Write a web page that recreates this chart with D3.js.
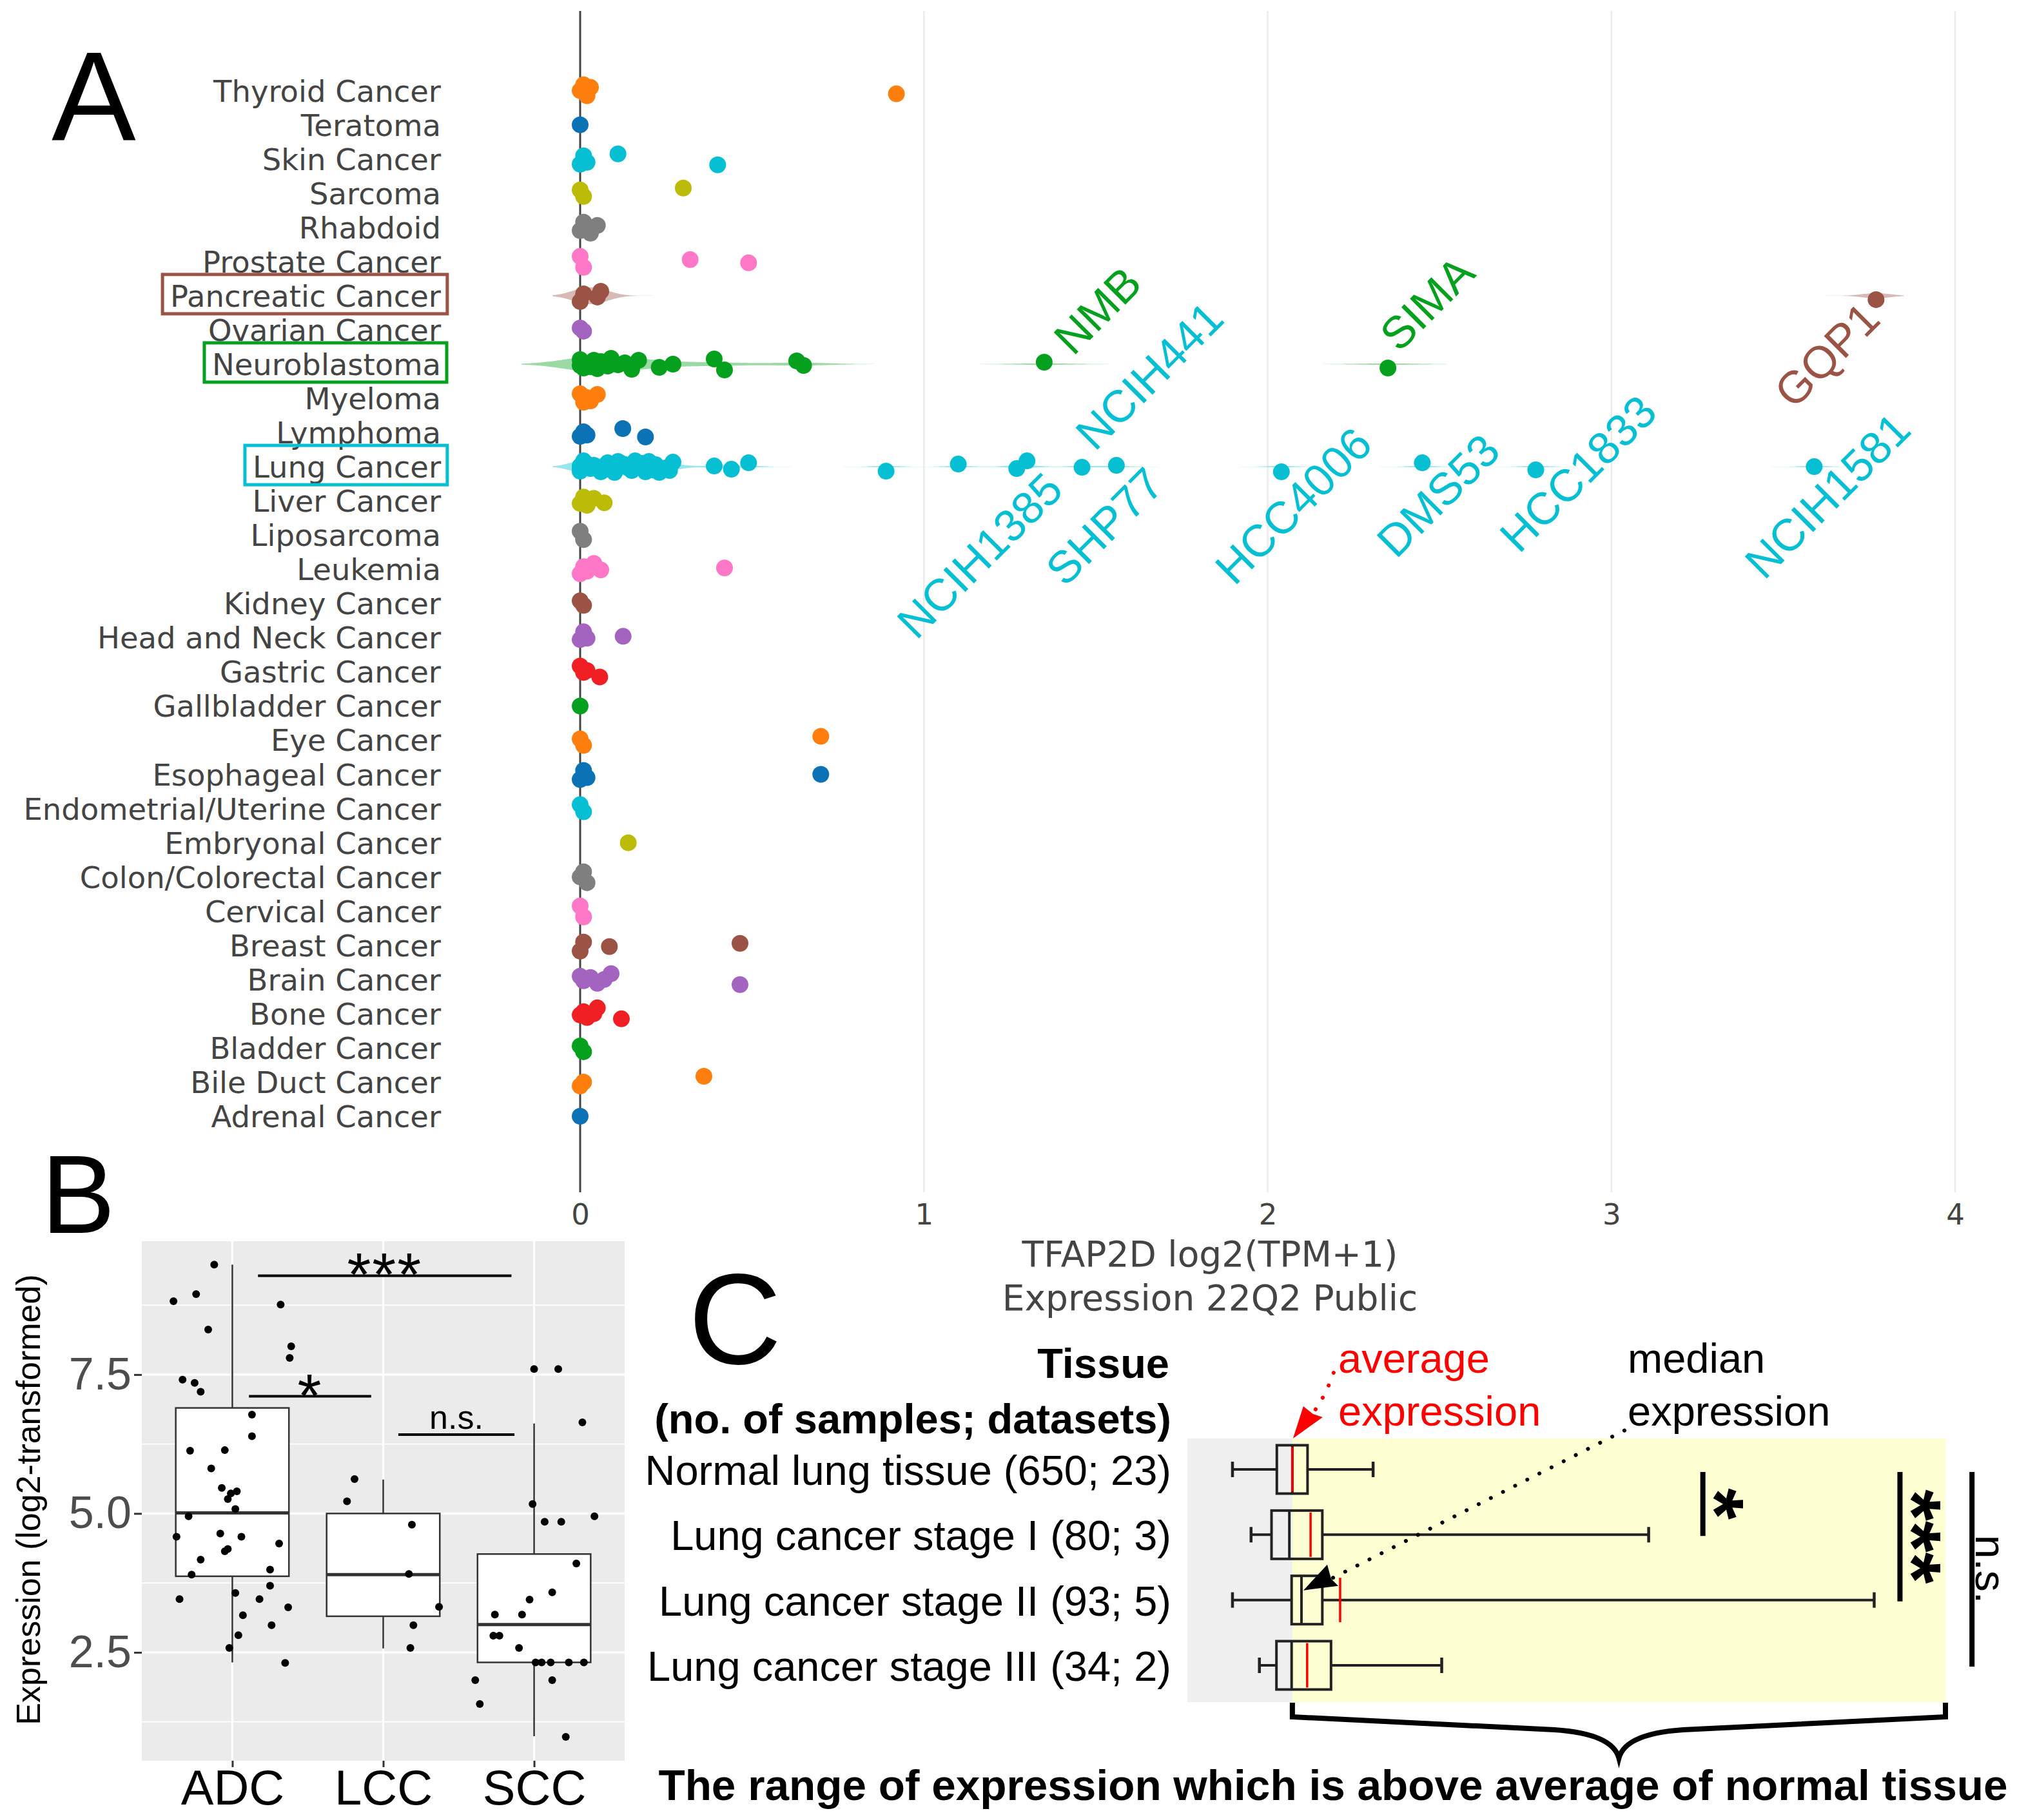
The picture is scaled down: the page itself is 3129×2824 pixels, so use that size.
<!DOCTYPE html>
<html>
<head>
<meta charset="utf-8">
<script src="https://cdn.jsdelivr.net/npm/d3@7"></script>
<style>
  body { margin: 0; background: #fff; }
  svg { display: block; }
</style>
</head>
<body>
<svg id="fig" width="3129" height="2824"></svg>
<script>
// ---------------- data: panel A (TFAP2D by cancer type) ----------------
const cancerTypes = [
  "Thyroid Cancer", "Teratoma", "Skin Cancer", "Sarcoma", "Rhabdoid", "Prostate Cancer",
  "Pancreatic Cancer", "Ovarian Cancer", "Neuroblastoma", "Myeloma", "Lymphoma", "Lung Cancer",
  "Liver Cancer", "Liposarcoma", "Leukemia", "Kidney Cancer", "Head and Neck Cancer",
  "Gastric Cancer", "Gallbladder Cancer", "Eye Cancer", "Esophageal Cancer",
  "Endometrial/Uterine Cancer", "Embryonal Cancer", "Colon/Colorectal Cancer", "Cervical Cancer",
  "Breast Cancer", "Brain Cancer", "Bone Cancer", "Bladder Cancer", "Bile Duct Cancer", "Adrenal Cancer"
];
// hidden lineage that still takes a colour slot in the original plot
const hiddenType = "Non-Cancerous";
// log2(TPM+1) per cell line, same order as cancerTypes
const typeValues = [
  [0, 0.01, 0.02, 0.03, 0.92],
  [0],
  [0, 0.01, 0.02, 0.11, 0.40],
  [0, 0.01, 0.30],
  [0, 0.01, 0.03, 0.05],
  [0, 0.01, 0.32, 0.49],
  [0, 0.01, 0.05, 0.06, 3.77],
  [0, 0.01],
  [0, 0, 0.01, 0.02, 0.03, 0.04, 0.05, 0.06, 0.08, 0.09, 0.11, 0.13, 0.15, 0.17, 0.23, 0.27, 0.39, 0.42, 0.63, 0.65, 1.35, 2.35],
  [0, 0.01, 0.02, 0.03, 0.05],
  [0, 0.01, 0.02, 0.124, 0.19],
  [0, 0, 0.01, 0, 0.02, 0.03, 0.01, 0.05, 0.04, 0.06, 0.08, 0.07, 0.09, 0.11, 0.10, 0.12, 0.14, 0.13, 0.15,
   0.17, 0.16, 0.19, 0.18, 0.21, 0.20, 0.23, 0.22, 0.25, 0.27, 0.26, 0.39, 0.44, 0.49,
   0.89, 1.10, 1.27, 1.30, 1.46, 1.56, 2.04, 2.45, 2.78, 3.59],
  [0, 0.01, 0.02, 0.04, 0.07],
  [0, 0.01],
  [0, 0.01, 0.02, 0.04, 0.06, 0.42],
  [0, 0.01],
  [0, 0.01, 0.02, 0.125],
  [0, 0.01, 0.02, 0.057],
  [0],
  [0, 0.01, 0.70],
  [0, 0.01, 0.02, 0.70],
  [0, 0.01],
  [0.14],
  [0, 0.01, 0.02],
  [0, 0.01],
  [0, 0.01, 0.085, 0.465],
  [0, 0.01, 0.03, 0.05, 0.07, 0.09, 0.465],
  [0, 0.01, 0.02, 0.04, 0.05, 0.12],
  [0, 0.01],
  [0, 0.01, 0.36],
  [0]
];
const boxedTypes = ["Pancreatic Cancer", "Neuroblastoma", "Lung Cancer"];
const violinTypes = ["Pancreatic Cancer", "Neuroblastoma", "Lung Cancer"];
const violinBandwidth = [0.04, 0.085, 0.04];
const cellLines = ["NMB", "SIMA", "GQP1", "NCIH441", "NCIH1385", "SHP77", "HCC4006", "DMS53", "HCC1833", "NCIH1581"];
const cellLineTypes = ["Neuroblastoma", "Neuroblastoma", "Pancreatic Cancer", "Lung Cancer", "Lung Cancer",
  "Lung Cancer", "Lung Cancer", "Lung Cancer", "Lung Cancer", "Lung Cancer"];
const cellLineValues = [1.35, 2.35, 3.77, 1.46, 1.30, 1.56, 2.04, 2.45, 2.78, 3.59];
const xTicksA = [0, 1, 2, 3, 4];
const xTitleA = ["TFAP2D log2(TPM+1)", "Expression 22Q2 Public"];

// ---------------- data: panel B (NSCLC subtypes) ----------------
const subtypes = ["ADC", "LCC", "SCC"];
const boxLow = [2.32, 2.57, 0.99];
const boxQ1 = [3.87, 3.15, 2.32];
const boxMedian = [5.01, 3.90, 3.00];
const boxQ3 = [6.90, 5.00, 4.27];
const boxHigh = [9.48, 5.61, 6.62];
// [jitter in category units, expression]
const adcPoints = [[-0.12,9.48],[-0.39,8.82],[-0.24,8.95],[-0.16,8.31],[0.32,8.76],[0.39,8.01],[0.38,7.80],
  [-0.33,7.41],[-0.25,7.35],[-0.21,7.19],[0.13,6.78],[0.13,6.39],[-0.28,6.13],[-0.05,6.14],[-0.14,5.81],
  [-0.07,5.46],[-0.01,5.36],[0.03,5.40],[-0.03,5.26],[0.02,5.08],[-0.29,4.95],[-0.37,4.58],[-0.08,4.64],
  [0.06,4.58],[0.31,4.46],[-0.03,4.36],[-0.05,4.32],[-0.21,4.17],[-0.27,3.90],[0.25,3.99],[0.25,3.70],
  [-0.35,3.46],[0.02,3.57],[0.18,3.46],[0.37,3.31],[0.07,3.17],[0.26,2.99],[0.04,2.81],[-0.02,2.58],[0.35,2.31]];
const lccPoints = [[-0.19,5.62],[-0.24,5.22],[0.19,4.80],[0.17,3.91],[0.37,3.32],[0.20,2.99],[0.18,2.58]];
const sccPoints = [[0.0,7.60],[0.16,7.60],[0.32,6.64],[-0.01,5.17],[0.07,4.85],[0.18,4.85],[0.40,4.95],
  [0.28,4.10],[0.12,3.58],[-0.03,3.45],[-0.26,3.18],[-0.08,3.18],[-0.27,2.80],[-0.23,2.80],[-0.10,2.58],
  [0.01,2.32],[0.05,2.32],[0.11,2.32],[0.23,2.32],[0.33,2.32],[0.12,2.00],[-0.39,2.00],[-0.36,1.57],[0.21,0.98]];
const yTicksB = [2.5, 5.0, 7.5];
const compLabelB = ["***", "*", "n.s."];
const compFromB = [0.17, 0.11, 1.10];   // category index
const compToB = [1.85, 0.92, 1.87];
const compLevelB = [9.28, 7.11, 6.42];

// ---------------- data: panel C (normal vs tumour stages) ----------------
const tissues = ["Normal lung tissue (650; 23)", "Lung cancer stage I (80; 3)",
  "Lung cancer stage II (93; 5)", "Lung cancer stage III (34; 2)"];
const tisLow = [1.19, 1.68, 1.19, 1.90];
const tisQ1 = [2.36, 2.22, 2.75, 2.35];
const tisMedian = [2.77, 2.69, 3.01, 2.75];
const tisQ3 = [3.17, 3.56, 3.56, 3.79];
const tisHigh = [4.90, 12.17, 18.12, 6.71];
const tisMean = [2.77, 3.25, 4.03, 3.16];
const compLabelC = ["*", "***", "n.s."];
const compToC = [1, 2, 3];            // compared with row 0
const compPosC = [13.6, 18.8, 20.7];  // expression units

// ---------------- setup ----------------
const svg = d3.select("#fig");
const palette = ["#0b72b5", "#ff7f0e", "#05a11e", "#f01f24", "#a264bf",
                 "#9b5345", "#fe78c7", "#7f7f7f", "#bcbc08", "#06bfd3"];
const colorDomain = cancerTypes.slice().reverse();
colorDomain.splice(colorDomain.indexOf("Neuroblastoma") + 1, 0, hiddenType);
const colorScale = d3.scaleOrdinal().domain(colorDomain).range(palette);
const colorOf = t => colorScale(t);
const plotlyFont = "'DejaVu Sans', Verdana, sans-serif";
const arial = "'Liberation Sans', Arial, Helvetica, sans-serif";
const jitterPx = [0, -9, 8, -5, 5, -8, 9, -3, 2, -7, 6, -1, 4, -6, 7, -4, 3, -9, 1, -2, 8, -6, 5, 0, -8, 9, -5, 2, -3, 6];

// ================= PANEL A =================
const gA = svg.append("g");
const xA = d3.scaleLinear().domain([0, 4]).range([900, 3033]);
const yA = d3.scalePoint().domain(cancerTypes).range([140.6, 1732]);

gA.selectAll("line.grid").data(xTicksA.filter(d => d > 0)).join("line")
    .attr("class", "grid")
    .attr("x1", d => xA(d)).attr("x2", d => xA(d))
    .attr("y1", 17).attr("y2", 1850)
    .attr("stroke", "#ebebeb").attr("stroke-width", 2.5);

gA.append("line")
    .attr("x1", xA(0)).attr("x2", xA(0)).attr("y1", 17).attr("y2", 1850)
    .attr("stroke", "#444").attr("stroke-width", 3);

const axA = gA.append("g").attr("transform", "translate(0,1850)")
    .call(d3.axisBottom(xA).tickValues(xTicksA).tickSize(0).tickPadding(18).tickFormat(d3.format("d")));
axA.select(".domain").remove();
axA.selectAll("text").style("font-family", plotlyFont).style("font-size", "45px").attr("fill", "#444");

gA.append("text")
    .attr("x", 1877).attr("y", 1965)
    .attr("text-anchor", "middle")
    .style("font-family", plotlyFont).style("font-size", "55px").attr("fill", "#444")
    .selectAll("tspan").data(xTitleA).join("tspan")
    .attr("x", 1877).attr("dy", (d, i) => i ? 68 : 0).text(d => d);

// category labels
const labA = gA.selectAll("text.cat").data(cancerTypes).join("text")
    .attr("class", "cat")
    .attr("x", 684).attr("y", d => yA(d) + 17)
    .attr("text-anchor", "end")
    .style("font-family", plotlyFont).style("font-size", "46.5px").attr("fill", "#444")
    .text(d => d);

labA.filter(d => boxedTypes.includes(d)).each(function (d) {
  const b = this.getBBox();
  gA.append("rect")
      .attr("x", b.x - 12).attr("y", yA(d) - 33)
      .attr("width", b.width + 21).attr("height", 61)
      .attr("fill", "none").attr("stroke", colorOf(d)).attr("stroke-width", 5);
});

// violins (gaussian kde)
violinTypes.forEach((t, k) => {
  const vals = typeValues[cancerTypes.indexOf(t)];
  const bw = violinBandwidth[k];
  const lo = d3.min(vals) - 2 * bw, hi = d3.max(vals) + 2 * bw;
  const xs = d3.range(lo, hi, 0.004).concat([hi]);
  const dens = xs.map(x => d3.mean(vals, v => Math.exp(-0.5 * ((x - v) / bw) ** 2)));
  const dMax = d3.max(dens);
  const hScale = d3.scaleLinear().domain([0, dMax]).range([0, 13]);
  const pts = xs.map((x, i) => [x, dens[i]]);
  const area = d3.area()
      .x(p => xA(p[0]))
      .y0(p => yA(t) - hScale(p[1]))
      .y1(p => yA(t) + hScale(p[1]))
      .curve(d3.curveBasis);
  gA.append("path").attr("d", area(pts))
      .attr("fill", colorOf(t)).attr("fill-opacity", 0.4);
});

// points
const ptsA = [];
cancerTypes.forEach((t, i) => {
  typeValues[i].forEach((v, j) => {
    ptsA.push({ type: t, value: v, dy: typeValues[i].length > 1 ? jitterPx[(j + i) % jitterPx.length] : 0 });
  });
});
gA.selectAll("circle.pt").data(ptsA).join("circle")
    .attr("class", "pt")
    .attr("cx", d => xA(d.value))
    .attr("cy", d => yA(d.type) + d.dy)
    .attr("r", 13)
    .attr("fill", d => colorOf(d.type));

// cell line annotations
const labelOffsets = [[82, -84], [60, -95], [-77, 91], [104, -142], [-74, 137],
                      [-19, 92], [18, 60], [24, 44], [65, 10], [20, 44]];
gA.selectAll("text.cell").data(cellLines).join("text")
    .attr("class", "cell")
    .attr("transform", (d, i) => {
      const cx = xA(cellLineValues[i]) + labelOffsets[i][0];
      const cy = yA(cellLineTypes[i]) + labelOffsets[i][1];
      return `translate(${cx},${cy}) rotate(-45)`;
    })
    .attr("text-anchor", "middle").attr("dy", "0.36em")
    .style("font-family", arial).style("font-size", "70px")
    .attr("fill", (d, i) => colorOf(cellLineTypes[i]))
    .text(d => d);

// ================= PANEL B =================
const gB = svg.append("g");
const xB = d3.scalePoint().domain(subtypes).range([220, 969]).padding(0.6);
const stepB = xB.step();
const yB = d3.scaleLinear().domain([0.55, 9.9]).range([2732, 1926]);
const idxB = d3.scaleLinear().domain([0, 2]).range([xB(subtypes[0]), xB(subtypes[2])]);

gB.append("rect").attr("x", 220).attr("y", 1926).attr("width", 749).attr("height", 806).attr("fill", "#ebebeb");
const minorB = [1.25, 3.75, 6.25, 8.75];
gB.selectAll("line.minor").data(minorB).join("line")
    .attr("x1", 220).attr("x2", 969).attr("y1", d => yB(d)).attr("y2", d => yB(d))
    .attr("stroke", "#fff").attr("stroke-width", 1.6);
gB.selectAll("line.major").data(yTicksB).join("line")
    .attr("x1", 220).attr("x2", 969).attr("y1", d => yB(d)).attr("y2", d => yB(d))
    .attr("stroke", "#fff").attr("stroke-width", 3.2);
gB.selectAll("line.vmajor").data(subtypes).join("line")
    .attr("x1", d => xB(d)).attr("x2", d => xB(d)).attr("y1", 1926).attr("y2", 2732)
    .attr("stroke", "#fff").attr("stroke-width", 3.2);

const boxesB = subtypes.map((s, i) => ({ s, lo: boxLow[i], q1: boxQ1[i], med: boxMedian[i], q3: boxQ3[i], hi: boxHigh[i] }));
const bw2 = stepB * 0.375;
gB.selectAll("line.whisk").data(boxesB).join("line")
    .attr("x1", d => xB(d.s)).attr("x2", d => xB(d.s)).attr("y1", d => yB(d.lo)).attr("y2", d => yB(d.hi))
    .attr("stroke", "#333").attr("stroke-width", 2.5);
gB.selectAll("rect.box").data(boxesB).join("rect")
    .attr("x", d => xB(d.s) - bw2).attr("width", 2 * bw2)
    .attr("y", d => yB(d.q3)).attr("height", d => yB(d.q1) - yB(d.q3))
    .attr("fill", "#fff").attr("stroke", "#333").attr("stroke-width", 2.5);
gB.selectAll("line.med").data(boxesB).join("line")
    .attr("x1", d => xB(d.s) - bw2).attr("x2", d => xB(d.s) + bw2)
    .attr("y1", d => yB(d.med)).attr("y2", d => yB(d.med))
    .attr("stroke", "#333").attr("stroke-width", 5);

const ptsB = [];
[adcPoints, lccPoints, sccPoints].forEach((arr, i) => arr.forEach(p => ptsB.push({ s: subtypes[i], j: p[0], v: p[1] })));
gB.selectAll("circle.pt").data(ptsB).join("circle")
    .attr("cx", d => xB(d.s) + d.j * stepB).attr("cy", d => yB(d.v)).attr("r", 6)
    .attr("fill", "#000");

// axes
const ayB = gB.append("g").attr("transform", "translate(220,0)")
    .call(d3.axisLeft(yB).tickValues(yTicksB).tickSize(12).tickPadding(4).tickFormat(d3.format(".1f")));
ayB.select(".domain").remove();
ayB.selectAll("line").attr("stroke", "#333").attr("stroke-width", 3);
ayB.selectAll("text").style("font-family", arial).style("font-size", "70px").attr("fill", "#4d4d4d");
const axB = gB.append("g").attr("transform", "translate(0,2732)")
    .call(d3.axisBottom(xB).tickSize(10).tickPadding(4));
axB.select(".domain").remove();
axB.selectAll("line").attr("stroke", "#333").attr("stroke-width", 3);
axB.selectAll("text").style("font-family", arial).style("font-size", "76px").attr("fill", "#000");

gB.append("text")
    .attr("transform", "translate(62,2327) rotate(-90)")
    .attr("text-anchor", "middle")
    .style("font-family", arial).style("font-size", "52px").attr("fill", "#000")
    .text("Expression (log2-transformed)");

// comparisons
compLabelB.forEach((lab, i) => {
  const y = yB(compLevelB[i]);
  gB.append("line")
      .attr("x1", idxB(compFromB[i])).attr("x2", idxB(compToB[i])).attr("y1", y).attr("y2", y)
      .attr("stroke", "#000").attr("stroke-width", 4);
  const star = lab !== "n.s.";
  gB.append("text")
      .attr("x", (idxB(compFromB[i]) + idxB(compToB[i])) / 2)
      .attr("y", star ? y + 31 : y - 9)
      .attr("text-anchor", "middle")
      .style("font-family", arial).style("font-size", star ? "95px" : "52px")
      .style("letter-spacing", star ? "2px" : "0px")
      .attr("fill", "#000").text(lab);
});

// ================= PANEL C =================
const gC = svg.append("g");
const xC = d3.scaleLinear().domain([0, 20]).range([1842, 3018]);
const yC = d3.scalePoint().domain(tissues).range([2280, 2584]);
const regTop = yC(tissues[0]) - 48, regBot = yC(tissues[3]) + 57;
const avgNormal = tisMean[0];

gC.append("rect").attr("x", xC(0)).attr("y", regTop)
    .attr("width", xC(avgNormal) - xC(0)).attr("height", regBot - regTop).attr("fill", "#efefef");
gC.append("rect").attr("x", xC(avgNormal)).attr("y", regTop)
    .attr("width", xC(20) - xC(avgNormal)).attr("height", regBot - regTop).attr("fill", "#fefed3");

const boxesC = tissues.map((t, i) => ({ t, lo: tisLow[i], q1: tisQ1[i], med: tisMedian[i], q3: tisQ3[i], hi: tisHigh[i], mean: tisMean[i] }));
const bh = 37.5;
gC.selectAll("line.wl").data(boxesC).join("line")
    .attr("x1", d => xC(d.lo)).attr("x2", d => xC(d.q1)).attr("y1", d => yC(d.t)).attr("y2", d => yC(d.t))
    .attr("stroke", "#222").attr("stroke-width", 4);
gC.selectAll("line.wh").data(boxesC).join("line")
    .attr("x1", d => xC(d.q3)).attr("x2", d => xC(d.hi)).attr("y1", d => yC(d.t)).attr("y2", d => yC(d.t))
    .attr("stroke", "#222").attr("stroke-width", 4);
gC.selectAll("line.capl").data(boxesC).join("line")
    .attr("x1", d => xC(d.lo)).attr("x2", d => xC(d.lo)).attr("y1", d => yC(d.t) - 12).attr("y2", d => yC(d.t) + 12)
    .attr("stroke", "#222").attr("stroke-width", 4.5);
gC.selectAll("line.caph").data(boxesC).join("line")
    .attr("x1", d => xC(d.hi)).attr("x2", d => xC(d.hi)).attr("y1", d => yC(d.t) - 12).attr("y2", d => yC(d.t) + 12)
    .attr("stroke", "#222").attr("stroke-width", 4.5);
gC.selectAll("rect.box").data(boxesC).join("rect")
    .attr("x", d => xC(d.q1)).attr("width", d => xC(d.q3) - xC(d.q1))
    .attr("y", d => yC(d.t) - bh).attr("height", 2 * bh)
    .attr("fill", "none").attr("stroke", "#222").attr("stroke-width", 4);
gC.selectAll("line.med").data(boxesC).join("line")
    .attr("x1", d => xC(d.med)).attr("x2", d => xC(d.med)).attr("y1", d => yC(d.t) - bh).attr("y2", d => yC(d.t) + bh)
    .attr("stroke", "#222").attr("stroke-width", 4);
gC.selectAll("line.mean").data(boxesC).join("line")
    .attr("x1", d => xC(d.mean)).attr("x2", d => xC(d.mean)).attr("y1", d => yC(d.t) - bh + 3).attr("y2", d => yC(d.t) + bh - 3)
    .attr("stroke", "#ff0000").attr("stroke-width", 3.5);

// row labels and header
gC.selectAll("text.row").data(tissues).join("text")
    .attr("x", 1817).attr("y", d => yC(d) + 24)
    .attr("text-anchor", "end")
    .style("font-family", arial).style("font-size", "65px").attr("fill", "#000")
    .text(d => d);
gC.append("text").attr("x", 1814).attr("y", 2138).attr("text-anchor", "end")
    .style("font-family", arial).style("font-size", "65px").style("font-weight", "bold").text("Tissue");
gC.append("text").attr("x", 1817).attr("y", 2224).attr("text-anchor", "end")
    .style("font-family", arial).style("font-size", "65px").style("font-weight", "bold").text("(no. of samples; datasets)");

// comparison bars on the right
compLabelC.forEach((lab, i) => {
  const x = xC(compPosC[i]);
  const y0 = yC(tissues[0]) + 4, y1 = yC(tissues[compToC[i]]) + 2;
  gC.append("line").attr("x1", x).attr("x2", x).attr("y1", y0).attr("y2", y1)
      .attr("stroke", "#000").attr("stroke-width", 8);
  const star = lab !== "n.s.";
  const fs = star ? 125 : 66;
  gC.append("text")
      .attr("transform", `translate(${star ? x + 46 - 0.555 * fs : x + 6},${(y0 + y1) / 2}) rotate(90)`)
      .attr("text-anchor", "middle")
      .style("font-family", arial).style("font-size", fs + "px")
      .style("font-weight", star ? "bold" : "normal")
      .attr("fill", "#000").text(lab);
});

// annotations
const annot = [["average", "#ff0000", 2076, 2130], ["expression", "#ff0000", 2076, 2212],
               ["median", "#000", 2525, 2130], ["expression", "#000", 2525, 2212]];
gC.selectAll("text.ann").data(annot).join("text")
    .attr("x", d => d[2]).attr("y", d => d[3])
    .style("font-family", arial).style("font-size", "65px").attr("fill", d => d[1])
    .text(d => d[0]);

// red dotted arrow -> mean of normal tissue
const rtx = xC(avgNormal) + 1, rty = regTop;
gC.append("path")
    .attr("d", `M${rtx + 63},${rty - 102} Q${rtx + 50},${rty - 65} ${rtx + 30},${rty - 38}`)
    .attr("fill", "none").attr("stroke", "#ff0000").attr("stroke-width", 6)
    .attr("stroke-linecap", "round").attr("stroke-dasharray", "0.1 21");
gC.append("path")
    .attr("d", `M${rtx},${rty} L${rtx + 16},${rty - 50} L${rtx + 31},${rty - 38} L${rtx + 46},${rty - 33} Z`)
    .attr("fill", "#ff0000");

// black dotted arrow -> median of stage II
const btx = xC(tisMedian[2]) + 3, bty = yC(tissues[2]) - 15;
gC.append("path")
    .attr("d", `M${btx + 498},${bty - 248} L${btx + 43},${bty - 18}`)
    .attr("fill", "none").attr("stroke", "#000").attr("stroke-width", 6)
    .attr("stroke-linecap", "round").attr("stroke-dasharray", "0.1 21");
gC.append("path")
    .attr("d", `M${btx},${bty} L${btx + 37},${bty - 40} L${btx + 43},${bty - 18} L${btx + 54},${bty - 7} Z`)
    .attr("fill", "#000");

// curly brace below the above-average range
const bx0 = xC(avgNormal), bx1 = xC(20), bmid = (bx0 + bx1) / 2, by = regBot + 1;
gC.append("path")
    .attr("d", `M${bx0},${by} L${bx0},${by + 22} L${bmid - 100},${by + 42} Q${bmid - 10},${by + 48} ${bmid},${by + 86}` +
               ` Q${bmid + 10},${by + 48} ${bmid + 100},${by + 42} L${bx1},${by + 22} L${bx1},${by}`)
    .attr("fill", "none").attr("stroke", "#000").attr("stroke-width", 8).attr("stroke-linejoin", "miter");

gC.append("text").attr("x", 2068).attr("y", 2793).attr("text-anchor", "middle")
    .style("font-family", arial).style("font-size", "67.5px").style("font-weight", "bold")
    .text("The range of expression which is above average of normal tissue");

// ================= panel letters =================
const letters = [["A", 80, 218, 196], ["B", 64, 1913, 172], ["C", 1068, 2116, 200]];
svg.selectAll("text.letter").data(letters).join("text")
    .attr("x", d => d[1]).attr("y", d => d[2])
    .style("font-family", arial).style("font-size", d => d[3] + "px").attr("fill", "#000")
    .text(d => d[0]);
</script>
</body>
</html>
